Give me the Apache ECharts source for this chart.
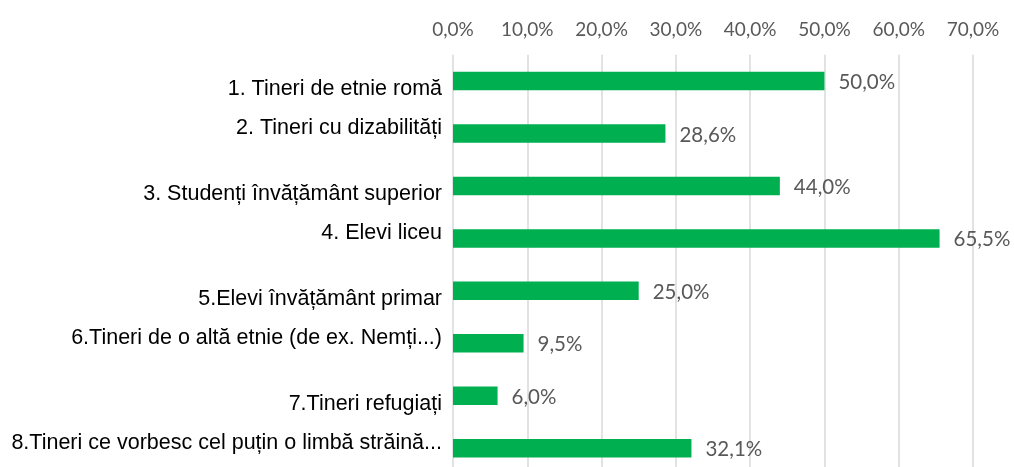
<!DOCTYPE html>
<html>
<head>
<meta charset="utf-8">
<title>Grupuri de tineri</title>
<script src="https://cdn.jsdelivr.net/npm/echarts@6/dist/echarts.min.js"></script>
<style>
    html, body { margin: 0; padding: 0; background: #fff; overflow: hidden; }
    /* graficul original e taiat jos, deci containerul e mai inalt decat fereastra */
    #chart { width: 1014px; height: 476px; }
</style>
</head>
<body>
<div id="chart"></div>
<script>
    // date
    var categories = [
        "1. Tineri de etnie romă",
        "2. Tineri cu dizabilități",
        "3. Studenți învățământ superior",
        "4. Elevi liceu",
        "5.Elevi învățământ primar",
        "6.Tineri de o altă etnie (de ex. Nemți...)",
        "7.Tineri refugiați",
        "8.Tineri ce vorbesc cel puțin o limbă străină..."
    ];
    var values = [50.0, 28.6, 44.0, 65.5, 25.0, 9.5, 6.0, 32.1];
    var tickValues = [0, 10, 20, 30, 40, 50, 60, 70];

(function () {
    "use strict";

    function pct(v) {
        return Number(v).toFixed(1).replace('.', ',') + '%';
    }

    // etichetele din original nu sunt centrate pe bare: impare mai jos, pare mai sus
    function catLabel(value, index) {
        return (index % 2 === 0 ? '{dn|' : '{up|') + value + '}';
    }

    var catText = {
        color: '#000000',
        fontSize: 21.5,
        fontFamily: '"Liberation Sans", Arial, sans-serif'
    };

    var chart = echarts.init(document.getElementById('chart'));
    var option = {
        animation: false,
        backgroundColor: '#ffffff',
        grid: {
            left: 453,
            right: 41,
            top: 54.8,
            height: 419.6,
            containLabel: false
        },
        xAxis: {
            type: 'value',
            position: 'top',
            min: tickValues[0],
            max: tickValues[tickValues.length - 1],
            interval: tickValues[1] - tickValues[0],
            axisLine: { show: false },
            axisTick: { show: false },
            axisLabel: {
                margin: 15,
                color: '#595959',
                fontSize: 19,
                fontFamily: 'Lato, "Open Sans", sans-serif',
                formatter: pct
            },
            splitLine: {
                lineStyle: { color: '#d9d9d9', width: 1.5 }
            }
        },
        yAxis: {
            type: 'category',
            inverse: true,
            data: categories,
            axisLine: { show: false },
            axisTick: { show: false },
            axisLabel: {
                margin: 11,
                formatter: catLabel,
                rich: {
                    dn: echarts.util.extend({ padding: [17, 0, 0, 0] }, catText),
                    up: echarts.util.extend({ padding: [0, 0, 10, 0] }, catText)
                }
            }
        },
        series: [{
            type: 'bar',
            data: values,
            barWidth: 18.5,
            itemStyle: { color: '#00b050' },
            label: {
                show: true,
                position: 'right',
                distance: 14,
                offset: [0, 1.5],
                color: '#595959',
                fontSize: 20.5,
                fontFamily: 'Lato, "Open Sans", sans-serif',
                formatter: function (p) { return pct(p.value); }
            }
        }]
    };
    chart.setOption(option);
}());
</script>
</body>
</html>
